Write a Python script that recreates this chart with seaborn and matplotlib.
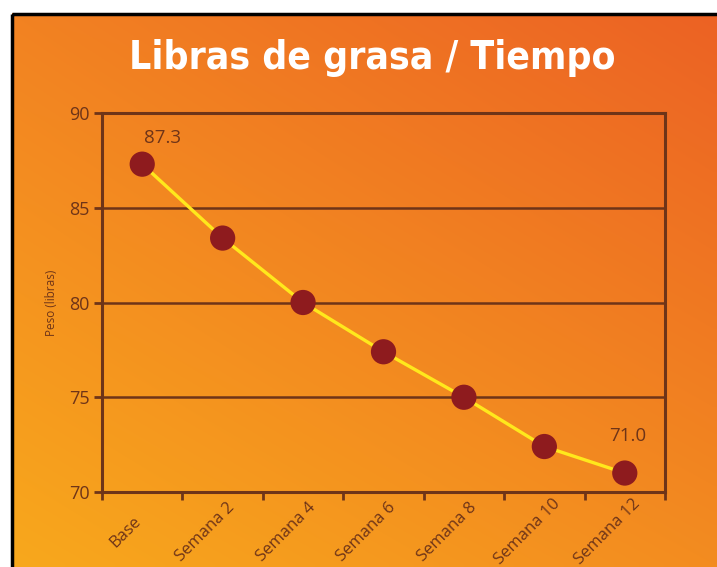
import numpy as np
import pandas as pd
import matplotlib
matplotlib.use("Agg")
import matplotlib.pyplot as plt
import matplotlib.transforms as mtransforms
import seaborn as sns
from matplotlib.patches import Rectangle

categories = ["Base", "Semana 2", "Semana 4", "Semana 6", "Semana 8", "Semana 10", "Semana 12"]
peso = [87.3, 83.4, 80.0, 77.4, 75.0, 72.4, 71.0]
y_ticks = [70, 75, 80, 85, 90]
title = "Libras de grasa / Tiempo"
ylabel = "Peso (libras)"

sns.set_theme(style="white")
plt.rcParams['font.family'] = ['Open Sans', 'DejaVu Sans']

brown = "#6E3418"
W, H = 717, 567
fig = plt.figure(figsize=(W / 100, H / 100), dpi=100)

# background gradient
bg = fig.add_axes([0, 0, 1, 1], zorder=-5)
bg.set_xlim(0, W)
bg.set_ylim(H, 0)
bg.axis("off")
tl = np.array([242, 130, 34]) / 255
tr = np.array([236, 98, 36]) / 255
bl = np.array([248, 168, 28]) / 255
br = np.array([243, 140, 32]) / 255
ny, nx = 100, 120
u = np.linspace(0, 1, nx)[None, :, None]
v = np.linspace(0, 1, ny)[:, None, None]
img = (1 - v) * ((1 - u) * tl + u * tr) + v * ((1 - u) * bl + u * br)
bg.imshow(img, extent=(12, W, H, 13), aspect="auto", interpolation="bilinear")
bg.add_patch(Rectangle((11.5, 13.5), W + 10, H + 10, fill=False, edgecolor="black", lw=2.5))
bg.text(372, 58, title, ha="center", va="center", color="white", fontsize=28,
        fontweight="bold", fontstretch="condensed", family=["DejaVu Sans"])

ax = fig.add_axes([102 / W, 1 - 492 / H, (665 - 102) / W, (492 - 113) / H])
ax.set_facecolor("none")
df = pd.DataFrame({"cat": categories, "peso": peso, "x": np.arange(len(categories))})
sns.lineplot(data=df, x="x", y="peso", ax=ax, color="#FFE81C", lw=2.4, sort=False, zorder=3)
sns.scatterplot(data=df, x="x", y="peso", ax=ax, color="#8E1B1E", s=330, edgecolor="none", zorder=4)

ax.set_xlim(-0.5, len(categories) - 0.5)
ax.set_ylim(70, 90)
ax.set_yticks(y_ticks)
ax.set_yticklabels([str(t) for t in y_ticks], color=brown, fontsize=13)
ax.set_xticks(np.arange(len(categories) + 1) - 0.5, minor=True)
ax.tick_params(axis="x", which="minor", length=6, width=2, color=brown, direction="out", bottom=True)
ax.tick_params(axis="y", which="major", length=6, width=2, color=brown, direction="out", left=True, pad=3)
ax.set_xticks(np.arange(len(categories)))
ax.tick_params(axis="x", which="major", length=0, pad=29)
ax.set_xticklabels(categories, rotation=45, ha="center", va="center", rotation_mode="anchor",
                   color=brown, fontsize=12)
shift = mtransforms.ScaledTranslation(-17 / 100, 0, fig.dpi_scale_trans)
for lab in ax.get_xticklabels():
    lab.set_transform(lab.get_transform() + shift)
for yv in y_ticks[1:-1]:
    ax.axhline(yv, color=brown, lw=1.8, zorder=1)
for s in ["left", "right", "top", "bottom"]:
    ax.spines[s].set_visible(True)
    ax.spines[s].set_color(brown)
    ax.spines[s].set_linewidth(2.2)
ax.set_xlabel("")
ax.set_ylabel(ylabel, color=brown, fontsize=8.5, labelpad=8)

ax.annotate(f"{peso[0]:.1f}", (0, peso[0]), xytext=(14.5, 19), textcoords="offset points",
            ha="center", va="center", color=brown, fontsize=13.5)
ax.annotate(f"{peso[-1]:.1f}", (len(peso) - 1, peso[-1]), xytext=(2, 27), textcoords="offset points",
            ha="center", va="center", color=brown, fontsize=13.5)

fig.savefig("out.png", dpi=100)
